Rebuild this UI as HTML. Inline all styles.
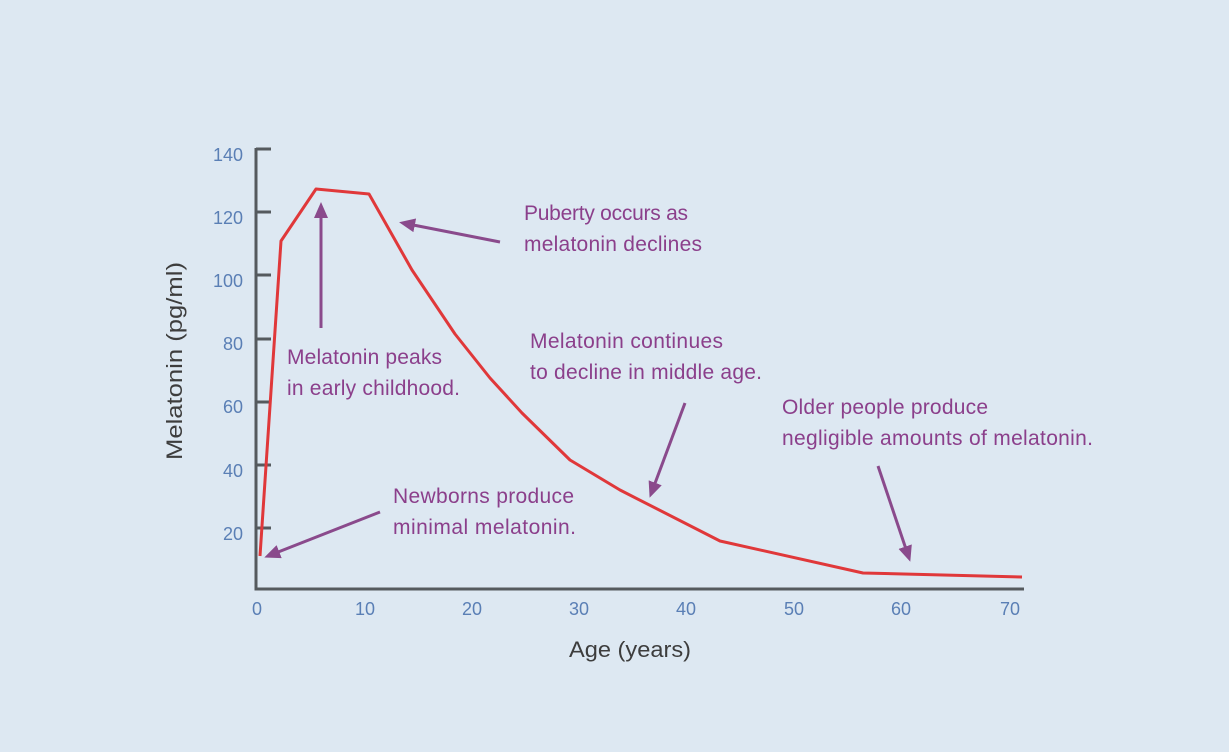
<!DOCTYPE html>
<html><head><meta charset="utf-8"><style>
html,body{margin:0;padding:0;background:#dde8f2;}
svg{display:block;font-family:"Liberation Sans",sans-serif;}
</style></head><body>
<svg width="1229" height="752" viewBox="0 0 1229 752">
<rect width="1229" height="752" fill="#dde8f2"/>
<defs><marker id="ah" markerWidth="16" markerHeight="14" refX="12" refY="7" orient="auto" markerUnits="userSpaceOnUse" viewBox="0 0 16 14"><path d="M0,0 L16,7 L0,14 z" fill="#8a4a8c"/></marker></defs>
<g stroke="#555a5e" stroke-width="3" fill="none">
<path d="M256,148 V589 H1024"/>
<path d="M256,149 h15 M256,212 h15 M256,275 h15 M256,339 h15 M256,402 h15 M256,465 h15 M256,528 h15"/>
</g>
<g fill="#5a7fb5" font-size="18" text-anchor="end">
<text x="243" y="161">140</text><text x="243" y="224">120</text><text x="243" y="287">100</text>
<text x="243" y="350">80</text><text x="243" y="413">60</text><text x="243" y="477">40</text><text x="243" y="540">20</text>
</g>
<g fill="#5a7fb5" font-size="18" text-anchor="middle">
<text x="257" y="615">0</text><text x="365" y="615">10</text><text x="472" y="615">20</text><text x="579" y="615">30</text>
<text x="686" y="615">40</text><text x="794" y="615">50</text><text x="901" y="615">60</text><text x="1010" y="615">70</text>
</g>
<text x="569" y="657" font-size="22" fill="#3d3d3d" textLength="122" lengthAdjust="spacingAndGlyphs">Age (years)</text>
<text transform="translate(182,460) rotate(-90)" font-size="22" fill="#3d3d3d" textLength="198" lengthAdjust="spacingAndGlyphs">Melatonin (pg/ml)</text>
<polyline fill="none" stroke="#e0383a" stroke-width="3" stroke-linejoin="round" points="260,556 281,241 316,189 369,194 412,270 455,334 490,378 522,413 570,460 620,490 720,541 863,573 1022,577"/>
<g stroke="#8a4a8c" stroke-width="3" fill="none" marker-end="url(#ah)">
<line x1="321" y1="328" x2="321" y2="206"/>
<line x1="500" y1="242" x2="403" y2="223"/>
<line x1="380" y1="512" x2="268" y2="556"/>
<line x1="685" y1="403" x2="651" y2="494"/>
<line x1="878" y1="466" x2="909" y2="558"/>
</g>
<g fill="#8b3f8b" font-size="21" lengthAdjust="spacingAndGlyphs">
<text x="287" y="364" textLength="155">Melatonin peaks</text><text x="287" y="395" textLength="173">in early childhood.</text>
<text x="524" y="220" textLength="164">Puberty occurs as</text><text x="524" y="251" textLength="178">melatonin declines</text>
<text x="530" y="348" textLength="193">Melatonin continues</text><text x="530" y="379" textLength="232">to decline in middle age.</text>
<text x="782" y="414" textLength="206">Older people produce</text><text x="782" y="445" textLength="311">negligible amounts of melatonin.</text>
<text x="393" y="503" textLength="181">Newborns produce</text><text x="393" y="534" textLength="183">minimal melatonin.</text>
</g>
</svg>
</body></html>
